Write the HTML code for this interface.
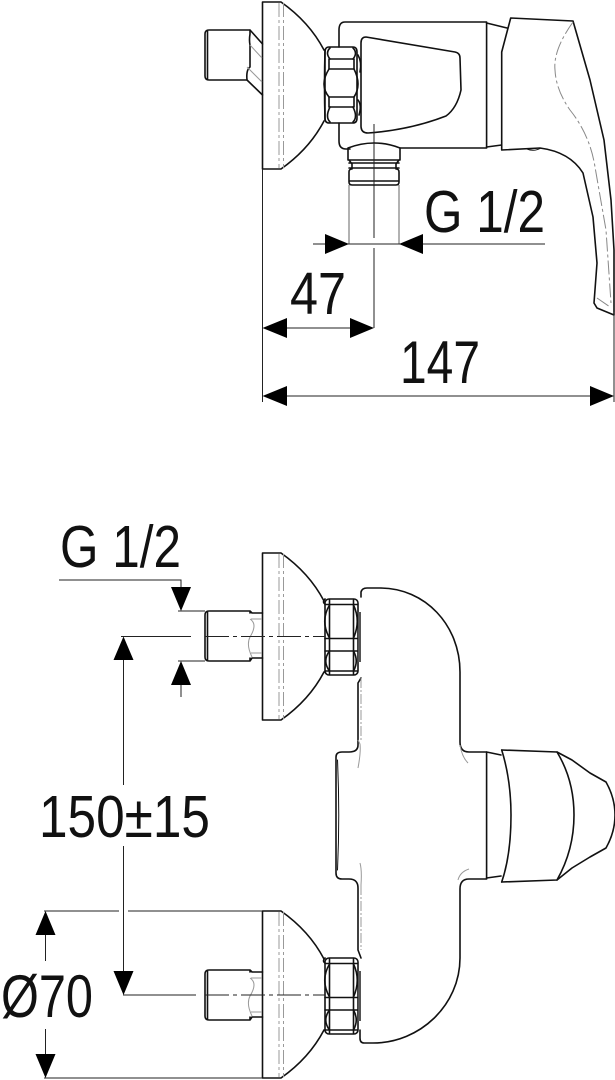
<!DOCTYPE html>
<html><head><meta charset="utf-8"><style>
html,body{margin:0;padding:0;background:#fff;width:615px;height:1080px;overflow:hidden}
svg{display:block}
text{font-family:"Liberation Sans",sans-serif;fill:#111}
.m{fill:none;stroke:#111;stroke-width:1.6;stroke-linejoin:round;stroke-linecap:round}
.t{fill:none;stroke:#222;stroke-width:1}
.g{fill:none;stroke:#999;stroke-width:1}
.d{fill:none;stroke:#999;stroke-width:1;stroke-dasharray:14 3 3 3}
.c{fill:none;stroke:#222;stroke-width:1;stroke-dasharray:24 4 4 4}
.a{fill:#000;stroke:none}
</style></head><body>
<svg width="615" height="1080" viewBox="0 0 615 1080" xmlns="http://www.w3.org/2000/svg">
<defs>
<g id="fl">
<path class="m" d="M281 0H262.500V167H281C298 155 313 140 324 119M281 0C298 12 313 27 324 48"/>
<path class="d" d="M279 1V166M283.500 1V166"/>
</g>
<g id="nt">
<rect class="m" x="325" y="0" width="33" height="76" rx="4"/>
<path class="m" d="M325 5Q322 3 325 0M329.500 1V75M353.500 1V75M325 5.500H357M325 39.500H357M325 52H357M325 72H357"/>
<path class="m" d="M329.500 6Q320 22 329.500 39M353.500 6Q361 22 353.500 39M329.500 52Q322 62 329.500 72M353.500 52Q359 62 353.500 72"/>
<rect x="358" y="13" width="3" height="50" fill="#555"/>
</g>
<g id="st">
<path class="m" d="M209 0H250L252 2H262.500M209 50H250L252 47H262.500M209 0Q205 0 205 4V46Q205 50 209 50M207.500 1V49M250 0V2M250 50V47"/>
<path class="g" d="M250 8Q258 13 250 26Q246 34 252 46M262 8H251M262 42H251"/>
</g>
</defs>

<!-- TOP VIEW -->
<use href="#fl" y="2"/>
<path class="m" d="M209 30H250L262.500 44M209 80H247L262.500 95M209 30Q205 30 205 34V76Q205 80 209 80M207.500 31V79"/>
<path class="m" d="M250 30V34Q249 40 250 45V67Q246 70 247 80"/>
<path class="g" d="M250 45L262 58M247 67L262 82"/>
<!-- top nut -->
<path class="m" d="M329 47H353Q357 47 357 52V118Q357 123 353 123H329Q325 123 325 118V52Q325 47 329 47Z"/>
<path class="m" d="M325 50Q324 85 325 120M329 59H354M329 69H354M329 97H354M329 107H354M329 59V69M354 59V69M329 97V107M354 97V107"/>
<path class="m" d="M329 69Q319 85 329 97M354 69Q362 85 354 97M330 59Q325 53 330 48M353 59Q358 53 353 48M330 107Q325 117 330 122M353 107Q358 117 353 122"/>
<path class="m" d="M358 55Q362 62 360 72M358 100Q362 105 359 115"/>
<!-- body -->
<path class="m" d="M339 47V30Q339 22 345 22H486.600V148H400M339 123V141Q339 149 346 149H350"/>
<path class="m" d="M366 37L455 52Q460 53 460 58L461 90Q457 108 446 116Q410 130 368 133Q361 133 361 126V43Q361 37 366 37Z"/>
<path class="t" d="M374 124V238M374 248V328"/>
<path class="m" d="M486.600 23L507 28M486.600 147L501.700 145"/>
<!-- outlet -->
<path class="m" d="M348 148Q374 138 400 148V160H348V148ZM349 160L352 164V169M399 160L396 164V169M349 163H399M349 168H399M349 172V182Q349 185 352 185H396Q399 185 399 182V172Q399 169 396 169M349 172Q349 169 352 169M350 181H398"/>
<path class="t" d="M374 143V185"/>
<!-- handle -->
<path class="m" d="M510.700 18L573 21L590 80L604 140L611 200L614 250V315L597 308L594 303L597 263L593 217L583 173Q570 152 540 148L501.700 150V52Z"/>
<path class="m" d="M527 149Q534 152 541 148" style="stroke-width:1"/>
<path class="d" d="M573 22Q553 50 555 70Q556 90 570 110Q590 135 595 167L606 230L611 303M597 298L610 307" style="stroke:#888"/>

<!-- top dims -->
<path class="g" d="M349 185V244M399 185V244" style="stroke:#666"/>
<path class="t" d="M313 244H545M262.500 169V402M614 312V402M287 328H350M287 396H590" />
<path class="a" d="M349 244L325 234V254ZM399 244L423 234V254ZM262.500 328L287 318V338ZM374 328L350 318V338ZM262.500 396L287 386V406ZM614 396L590 386V406Z"/>
<text x="424" y="232" font-size="59" textLength="121" lengthAdjust="spacingAndGlyphs">G 1/2</text>
<text x="290" y="314" font-size="59" textLength="56" lengthAdjust="spacingAndGlyphs">47</text>
<text x="400" y="383" font-size="60" textLength="80" lengthAdjust="spacingAndGlyphs">147</text>

<!-- FRONT VIEW -->
<use href="#fl" y="553"/>
<use href="#st" y="611"/>
<use href="#nt" y="599"/>
<use href="#fl" y="911"/>
<use href="#st" y="970"/>
<use href="#nt" y="958"/>
<path class="c" d="M205 636.500H325M205 995H325"/>
<!-- body -->
<path class="m" d="M358 683L361 678M361 597V592Q362 588 367 588H380C425 588 460 625 460 672V742Q460 752 469 752H486.600V879H469Q460 879 460 889V958C460 1005 420 1043 373 1043H364Q360 1043 360 1038V1030M358 950V888Q358 879 349 879H342Q336 879 336 873V757Q336 752 342 752H349Q358 752 358 745V683M358 950L361 958"/>
<path class="m" d="M337.500 760Q340 815 337.500 870" style="stroke-width:1"/>
<path class="d" d="M361 678V740M361 885V950" style="stroke-dasharray:10 2 2 2"/>
<path class="g" d="M358 740L360 744Q361 752 358 768M360 863Q362 870 361 885M460 745Q462 757 468 763M458 880Q460 872 469 869"/>
<!-- front handle -->
<path class="m" d="M486.600 752L501 755M486.600 878L501 876M501.700 750L557 752L572 760L590 773L606 782Q615 798 615 815Q615 832 606 848L590 857L572 868L557 880L501.700 882"/>
<path class="m" d="M501.700 750Q511 780 511 815Q511 855 501.700 882M557 752Q574 780 574 815Q574 850 557 880"/>
<!-- front dims -->
<path class="t" d="M59 580H181V587M178 611H205M178 661H205M181 685V697M121 636.500H191M123.500 660V785M123.500 846V971M123 995H196M44 911H119M128 911H262M44 1078H262M45.500 935V961M45.500 1029V1054"/>
<path class="a" d="M181 611L171 587H191ZM181 661L171 685H191ZM123.500 636.500L113.500 660H133.500ZM123.500 995L113.500 971H133.500ZM45.500 911L35.500 935H55.500ZM45.500 1078L35.500 1054H55.500Z"/>
<text x="60" y="567" font-size="59" textLength="121" lengthAdjust="spacingAndGlyphs">G 1/2</text>
<text x="39" y="837" font-size="59" textLength="171" lengthAdjust="spacingAndGlyphs">150±15</text>
<text x="1" y="1017" font-size="60" textLength="92" lengthAdjust="spacingAndGlyphs">Ø70</text>
</svg>
</body></html>
